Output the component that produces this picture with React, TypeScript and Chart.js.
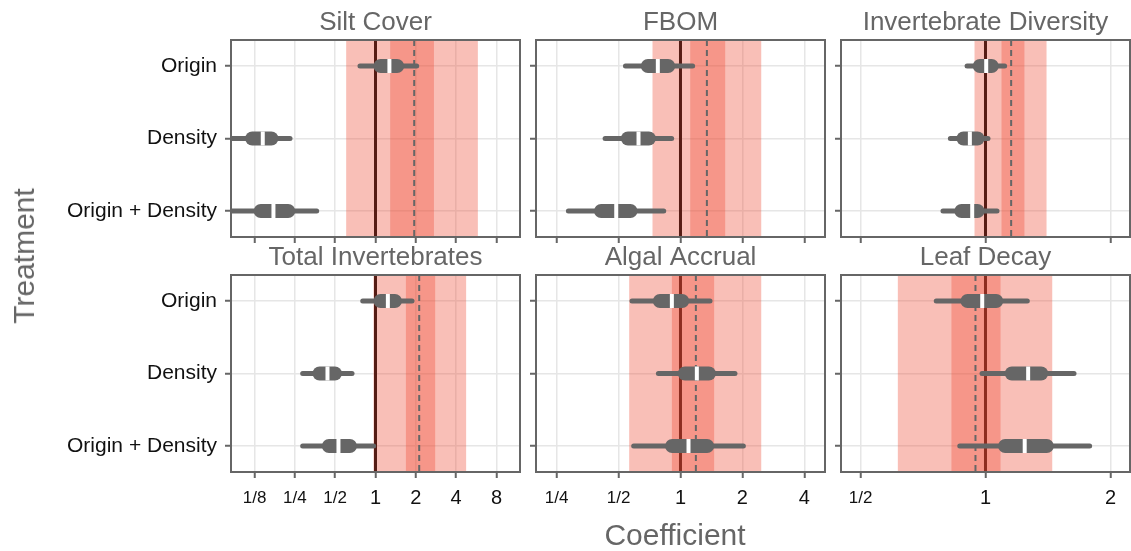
import React, { useEffect, useRef } from 'react';
import { Chart, registerables } from 'chart.js';

Chart.register(...registerables);

const FONT_FAMILY = "'Liberation Sans', Arial, Helvetica, sans-serif";
Chart.defaults.font.family = FONT_FAMILY;

// ---------- data ----------
const panelTitles = ['Silt Cover', 'FBOM', 'Invertebrate Diversity', 'Total Invertebrates', 'Algal Accrual', 'Leaf Decay'];
const treatments = ['Origin', 'Density', 'Origin + Density'];
const treatmentRows = [1, 2, 3];

const col1TickValues = [0.125, 0.25, 0.5, 1, 2, 4, 8];
const col1TickLabels = ['1/8', '1/4', '1/2', '1', '2', '4', '8'];
const col2TickValues = [0.25, 0.5, 1, 2, 4];
const col2TickLabels = ['1/4', '1/2', '1', '2', '4'];
const col3TickValues = [0.5, 1, 2];
const col3TickLabels = ['1/2', '1', '2'];

const colXMin = [0.0834, 0.1983, 0.4487];
const colXMax = [11.99, 5.045, 2.229];
const yMin = 0.641;
const yMax = 3.359;

// solid "no effect" line and dashed reference line per panel
const nullEffect = [1, 1, 1, 1, 1, 1];
const dashedRef = [1.945, 1.344, 1.153, 2.12, 1.188, 0.946];

// shaded bands per panel
const outerBandLo = [0.604, 0.731, 0.941, 0.966, 0.563, 0.615];
const outerBandHi = [5.81, 2.47, 1.403, 4.75, 2.47, 1.448];
const innerBandLo = [1.287, 1.115, 1.093, 1.686, 0.908, 0.828];
const innerBandHi = [2.73, 1.65, 1.241, 2.79, 1.458, 1.087];

// intervals: [panel][Origin, Density, Origin + Density]
const lower95 = [
  [0.766, 0.0795, 0.0755],
  [0.54, 0.43, 0.285],
  [0.903, 0.823, 0.79],
  [0.803, 0.286, 0.286],
  [0.581, 0.781, 0.592],
  [0.761, 0.981, 0.867],
];
const lower50 = [
  [1.09, 0.12, 0.139],
  [0.694, 0.555, 0.411],
  [0.969, 0.885, 0.875],
  [1.09, 0.382, 0.449],
  [0.794, 1.05, 0.911],
  [0.905, 1.157, 1.115],
];
const median = [
  [1.27, 0.144, 0.173],
  [0.776, 0.625, 0.487],
  [1.004, 0.917, 0.929],
  [1.237, 0.438, 0.529],
  [0.908, 1.201, 1.094],
  [0.982, 1.267, 1.243],
];
const upper50 = [
  [1.45, 0.167, 0.223],
  [0.871, 0.702, 0.571],
  [1.035, 0.957, 0.957],
  [1.396, 0.498, 0.644],
  [1.019, 1.375, 1.348],
  [1.061, 1.362, 1.405],
];
const upper95 = [
  [2.03, 0.23, 0.364],
  [1.146, 0.906, 0.829],
  [1.112, 1.014, 1.066],
  [1.873, 0.668, 0.969],
  [1.392, 1.841, 2.022],
  [1.261, 1.634, 1.782],
];

// ---------- layout ----------
const PANEL_LEFT = [231, 536, 841];
const PANEL_TOP = [40, 275];
const PANEL_W = 289;
const PANEL_H = 197;
const TITLE_H = 40;
const PAD_R = 4;

const INTERVAL_COLOR = '#666666';
const BAND_FILL = 'rgba(238,78,55,0.36)';
const GRID_COLOR = '#e6e6e6';
const FRAME_COLOR = '#666666';

function geom(i: number) {
  const col = i % 3;
  const row = Math.floor(i / 3);
  const padL = col === 0 ? PANEL_LEFT[0] : 10;
  const padB = row === 0 ? 30 : 70;
  return {
    col,
    row,
    padL,
    padB,
    left: PANEL_LEFT[col] - padL,
    top: PANEL_TOP[row] - TITLE_H,
    w: padL + PANEL_W + PAD_R,
    h: TITLE_H + PANEL_H + padB,
  };
}

function buildChart(canvas: HTMLCanvasElement, i: number) {
  const g = geom(i);
  const { col, row } = g;
  const tickValues = [col1TickValues, col2TickValues, col3TickValues][col];
  const tickLabels = [col1TickLabels, col2TickLabels, col3TickLabels][col];

  const datasets: any[] = [
    {
      data: [{ x: nullEffect[i], y: yMin }, { x: nullEffect[i], y: yMax }],
      showLine: true, borderColor: '#000000', borderWidth: 3, pointRadius: 0, clip: 0, order: 100,
    },
    {
      data: [{ x: dashedRef[i], y: yMin }, { x: dashedRef[i], y: yMax }],
      showLine: true, borderColor: INTERVAL_COLOR, borderWidth: 2, borderDash: [6, 4], pointRadius: 0, clip: 0, order: 90,
    },
  ];
  treatmentRows.forEach((r, t) => {
    datasets.push({
      data: [{ x: lower95[i][t], y: r }, { x: upper95[i][t], y: r }],
      showLine: true, borderColor: INTERVAL_COLOR, borderWidth: 5, borderCapStyle: 'round',
      pointRadius: 0, clip: 0, order: 80,
    });
    datasets.push({
      data: [{ x: lower50[i][t], y: r }, { x: upper50[i][t], y: r }],
      showLine: true, borderColor: INTERVAL_COLOR, borderWidth: 14, borderCapStyle: 'round',
      pointRadius: 0, clip: 0, order: 70,
    });
  });
  datasets.push({
    data: treatmentRows.map((r, t) => ({ x: median[i][t], y: r })),
    showLine: false, pointStyle: 'line', pointRotation: 90, pointRadius: 7,
    pointBorderWidth: 4, pointBorderColor: '#ffffff', pointBackgroundColor: '#ffffff',
    clip: 0, order: 60,
  });

  const decor = {
    id: 'panelDecor',
    afterDatasetDraw(chart: any, args: any) {
      if (args.index !== 0) return;
      const { ctx, chartArea: a } = chart;
      const x = chart.scales.x;
      ctx.save();
      ctx.beginPath();
      ctx.rect(a.left, a.top, a.right - a.left, a.bottom - a.top);
      ctx.clip();
      ctx.fillStyle = BAND_FILL;
      const bands = [
        [outerBandLo[i], outerBandHi[i]],
        [innerBandLo[i], innerBandHi[i]],
      ];
      bands.forEach(([lo, hi]) => {
        const p0 = x.getPixelForValue(lo);
        const p1 = x.getPixelForValue(hi);
        ctx.fillRect(p0, a.top, p1 - p0, a.bottom - a.top);
      });
      ctx.restore();
    },
    afterDraw(chart: any) {
      const { ctx, chartArea: a } = chart;
      ctx.save();
      ctx.strokeStyle = FRAME_COLOR;
      ctx.lineWidth = 2;
      ctx.strokeRect(a.left, a.top, a.right - a.left, a.bottom - a.top);
      ctx.restore();
    },
  };

  const gridOpts = {
    color: GRID_COLOR,
    lineWidth: 1.5,
    drawTicks: true,
    tickLength: 6,
    tickColor: FRAME_COLOR,
    tickWidth: 2,
  };

  return new Chart(canvas, {
    type: 'scatter',
    data: { datasets },
    plugins: [decor],
    options: {
      responsive: false,
      animation: false,
      devicePixelRatio: 1,
      events: [],
      layout: { autoPadding: false, padding: { left: 0, right: PAD_R, top: 0, bottom: 0 } },
      plugins: {
        legend: { display: false },
        tooltip: { enabled: false },
        title: {
          display: true,
          text: panelTitles[i],
          color: '#666666',
          fullSize: false,
          font: { family: FONT_FAMILY, size: 26, weight: 'normal', lineHeight: 1.2 },
          padding: { top: 7, bottom: 1.8 },
        },
      },
      scales: {
        x: {
          type: 'logarithmic',
          min: colXMin[col],
          max: colXMax[col],
          afterBuildTicks: (s: any) => {
            s.ticks = tickValues.map((v) => ({ value: v }));
          },
          afterFit: (s: any) => {
            s.height = g.padB;
          },
          grid: gridOpts,
          border: { display: false },
          ticks: {
            display: row === 1,
            autoSkip: false,
            maxRotation: 0,
            minRotation: 0,
            padding: 8,
            color: '#111111',
            callback: (_v: any, idx: number) => tickLabels[idx],
            font: (ctx: any) => {
              const v = ctx.tick ? ctx.tick.value : 1;
              return v < 1
                ? { family: FONT_FAMILY, size: 17, lineHeight: 24 / 17 }
                : { family: FONT_FAMILY, size: 20, lineHeight: 1.2 };
            },
          },
        },
        y: {
          type: 'linear',
          reverse: true,
          min: yMin,
          max: yMax,
          afterBuildTicks: (s: any) => {
            s.ticks = treatmentRows.map((v) => ({ value: v }));
          },
          afterFit: (s: any) => {
            s.width = g.padL;
          },
          grid: gridOpts,
          border: { display: false },
          ticks: {
            display: col === 0,
            padding: 8,
            color: '#111111',
            font: { family: FONT_FAMILY, size: 21 },
            callback: (v: any) => treatments[Math.round(v) - 1],
          },
        },
      },
    } as any,
  });
}

export default function App() {
  const refs = useRef<(HTMLCanvasElement | null)[]>([]);

  useEffect(() => {
    const charts = panelTitles.map((_, i) => buildChart(refs.current[i] as HTMLCanvasElement, i));
    return () => charts.forEach((c) => c.destroy());
  }, []);

  return (
    <div
      style={{
        position: 'absolute',
        left: 0,
        top: 0,
        width: 1131,
        height: 551,
        overflow: 'hidden',
        background: '#ffffff',
        fontFamily: FONT_FAMILY,
      }}
    >
      {panelTitles.map((t, i) => {
        const g = geom(i);
        return (
          <canvas
            key={t}
            ref={(el) => {
              refs.current[i] = el;
            }}
            width={g.w}
            height={g.h}
            style={{ position: 'absolute', left: g.left, top: g.top, width: g.w, height: g.h }}
          />
        );
      })}
      <div
        style={{
          position: 'absolute',
          left: 24,
          top: 256,
          transform: 'translate(-50%, -50%) rotate(-90deg)',
          fontSize: 30,
          lineHeight: 1,
          color: '#666666',
          whiteSpace: 'nowrap',
        }}
      >
        Treatment
      </div>
      <div
        style={{
          position: 'absolute',
          left: 675,
          top: 535,
          transform: 'translate(-50%, -50%)',
          fontSize: 30,
          lineHeight: 1,
          color: '#666666',
          whiteSpace: 'nowrap',
        }}
      >
        Coefficient
      </div>
    </div>
  );
}
